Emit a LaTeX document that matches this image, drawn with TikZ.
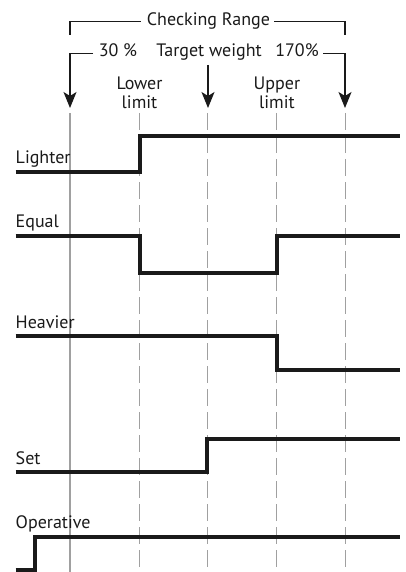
\documentclass[tikz,border=0pt]{standalone}
\usepackage{fontspec}
\setmainfont{PT Sans}
\usetikzlibrary{arrows.meta}
\definecolor{sigblack}{HTML}{1A1A1A}
\definecolor{gridgray}{HTML}{A0A0A0}
\tikzset{
    lbl/.style = {font=\fontsize{18}{18.3}\selectfont, text=sigblack, inner sep=0pt},
    brk/.style = {draw=sigblack, line width=1.1pt},
    arr/.style = {-{Stealth[length=16pt, width=13pt, inset=4pt]}, draw=sigblack, line width=1.4pt},
    sig/.style = {draw=sigblack, line width=4pt},
    grid0/.style = {draw=gridgray, line width=1.5pt},
    gridd/.style = {draw=gridgray, line width=1pt, dash pattern=on 17pt off 6pt}
}

\begin{document}
\begin{tikzpicture}[x=1pt, y=-1pt]
\useasboundingbox (0,0) rectangle (406,572);

% Grid lines
\draw[grid0] (70,113) -- (70,572);
\foreach \gx in {139.5, 207.7, 276.9, 345}
    \draw[gridd] (\gx,113) -- (\gx,572);

% Checking range bracket
\node[lbl, anchor=base] (range) at (208.5,26) {Checking Range};
\draw[brk] ([xshift=-6pt]range.west) -| (70,35);
\draw[brk] ([xshift=4pt]range.east) -| (345,35);

% Percent labels
\node[lbl, anchor=base] (p30) at (118,56.5) {30 \%};
\node[lbl, anchor=base] (tw) at (209,56.5) {Target weight};
\node[lbl, anchor=base] (p170) at (297,56.5) {170\%};
\coordinate (t0) at (70,108);
\coordinate (t2) at (208,108);
\coordinate (t4) at (345,108);
\draw[arr] (93,53.5) -| (t0);
\draw[arr] (323,53.5) -| (t4);
\draw[arr] (208,65) -- (t2);

% Limits
\node[lbl, align=center, anchor=base] (lower) at (139.5,108.3) {Lower\\limit};
\node[lbl, align=center, anchor=base] (upper) at (276.9,108.3) {Upper\\limit};

% Signal labels
\node[lbl, anchor=base west] (lighter) at (15.5,164) {Lighter};
\node[lbl, anchor=base west] (equal) at (15.5,227.5) {Equal};
\node[lbl, anchor=base west] (heavier) at (15.5,328.5) {Heavier};
\node[lbl, anchor=base west] (set) at (15.5,464) {Set};
\node[lbl, anchor=base west] (operative) at (15.5,528.5) {Operative};

% Signals
\draw[sig] (15.5,171.7) -| (139.7,136) -- (400,136);
\draw[sig] (15.5,236.3) -| (139.7,272.5) -| (277.3,236.3) -- (400,236.3);
\draw[sig] (15.5,335.8) -| (277.3,370.3) -- (400,370.3);
\draw[sig] (15.5,472.2) -| (207,438.8) -- (400,438.8);
\draw[sig] (15.5,570.2) -| (35.3,537) -- (400,537);
\end{tikzpicture}
\end{document}
